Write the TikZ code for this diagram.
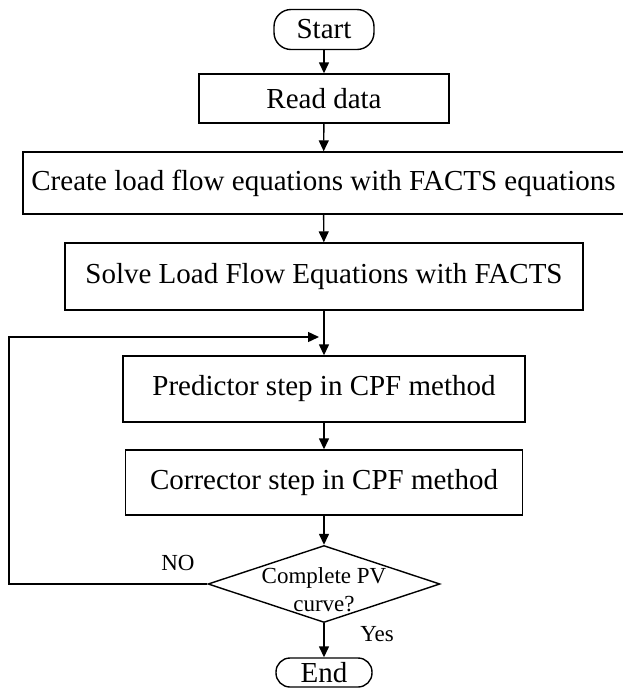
\documentclass[tikz,border=0pt]{standalone}
\usepackage{fontspec}
\setmainfont{Liberation Serif}
\usetikzlibrary{arrows.meta,shapes.geometric}

\begin{document}
\begin{tikzpicture}[x=1pt,y=-1pt,line width=1.4pt,>={Triangle[length=11pt,width=10pt]},
  bloc/.style={draw,rectangle,inner sep=0pt,font=\fontsize{29}{34}\selectfont},
  term/.style={draw,rectangle,rounded corners=17pt,inner sep=0pt,minimum width=100pt,minimum height=40pt,font=\fontsize{29}{34}\selectfont},
  test/.style={draw,diamond,inner sep=0pt,minimum width=232pt,minimum height=77pt},
  petit/.style={font=\fontsize{23}{28}\selectfont,align=center}]
\useasboundingbox (0,0) rectangle (622,689);

\node [term] (debut) at (324,29.5) {Start};
\node [bloc,minimum width=250pt,minimum height=49pt] (lire) at (324,98.5) {Read data};
\node [bloc,minimum width=601pt,minimum height=62pt] (creer) at (323.5,183) {Create load flow equations with FACTS equations};
\node [bloc,minimum width=518pt,minimum height=67pt] (resoudre) at (324,276.5) {Solve Load Flow Equations with FACTS};
\node [bloc,minimum width=402pt,minimum height=66pt] (predict) at (324,389) {Predictor step in CPF method};
\node [bloc,minimum width=397pt,minimum height=65pt] (correct) at (324,482.5) {Corrector step in CPF method};
\node [test] (courbe) at (324,584) {};
\node [petit] (qcourbe) at (324,590) {Complete PV\\curve?};
\node [term,minimum width=96pt,minimum height=29pt,rounded corners=14pt] (fin) at (324,672.5) {End};

\node [petit] (non) at (178,563) {NO};
\node [petit] (oui) at (377,634) {Yes};

\draw [->] (debut) -- (lire);
\draw [->] (lire) -- (creer);
\draw [->] (creer) -- (resoudre);
\draw [->] (resoudre) -- (predict);
\draw [->] (predict) -- (correct);
\draw [->] (correct) -- (courbe);
\draw [->] (courbe) -- (fin);

% retour vers le predicteur
\coordinate (coin) at (9,337);
\coordinate (retour) at (319,337);
\draw [->] (courbe.west) -| (coin) -- (retour);

\end{tikzpicture}
\end{document}
